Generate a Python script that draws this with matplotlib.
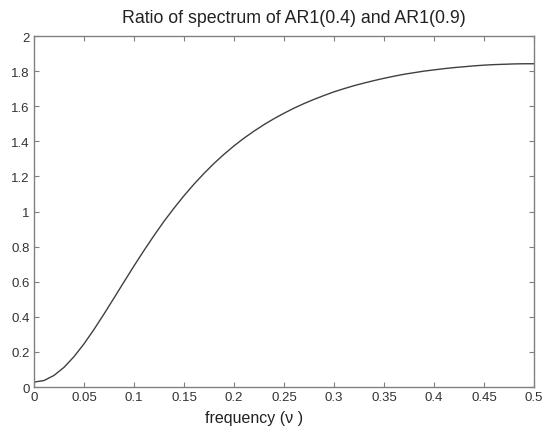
import matplotlib
matplotlib.use("Agg")
import matplotlib.pyplot as plt

# frequency grid and ratio of spectra
freq = [0.00, 0.01, 0.02, 0.03, 0.04, 0.05, 0.06, 0.07, 0.08, 0.09,
        0.10, 0.11, 0.12, 0.13, 0.14, 0.15, 0.16, 0.17, 0.18, 0.19,
        0.20, 0.21, 0.22, 0.23, 0.24, 0.25, 0.26, 0.27, 0.28, 0.29,
        0.30, 0.31, 0.32, 0.33, 0.34, 0.35, 0.36, 0.37, 0.38, 0.39,
        0.40, 0.41, 0.42, 0.43, 0.44, 0.45, 0.46, 0.47, 0.48, 0.49, 0.50]
ratio = [0.028, 0.037, 0.066, 0.112, 0.173, 0.246, 0.328, 0.416, 0.507, 0.599,
         0.690, 0.778, 0.863, 0.944, 1.019, 1.090, 1.156, 1.217, 1.274, 1.326,
         1.374, 1.418, 1.458, 1.495, 1.529, 1.560, 1.589, 1.615, 1.639, 1.661,
         1.682, 1.700, 1.717, 1.732, 1.746, 1.759, 1.771, 1.782, 1.791, 1.800,
         1.807, 1.814, 1.820, 1.825, 1.830, 1.834, 1.837, 1.839, 1.841, 1.842, 1.842]

xticks = [0, 0.05, 0.1, 0.15, 0.2, 0.25, 0.3, 0.35, 0.4, 0.45, 0.5]
xlabels = ["0", "0.05", "0.1", "0.15", "0.2", "0.25", "0.3", "0.35", "0.4", "0.45", "0.5"]
yticks = [0, 0.2, 0.4, 0.6, 0.8, 1, 1.2, 1.4, 1.6, 1.8, 2]
ylabels = ["0", "0.2", "0.4", "0.6", "0.8", "1", "1.2", "1.4", "1.6", "1.8", "2"]

plt.rcParams['font.family'] = ['Liberation Sans', 'DejaVu Sans']

fig = plt.figure(figsize=(5.43, 4.27), dpi=100)
ax = fig.add_axes([0.0626, 0.0913, 0.9208, 0.822])

ax.plot(freq, ratio, color="#404040", linewidth=1.0)

ax.set_xlim(0, 0.5)
ax.set_ylim(0, 2)
ax.set_xticks(xticks)
ax.set_xticklabels(xlabels)
ax.set_yticks(yticks)
ax.set_yticklabels(ylabels)

for s in ax.spines.values():
    s.set_color("#808080")
    s.set_linewidth(1.0)
ax.tick_params(direction="in", top=True, right=True, length=3.5, width=0.8,
               color="#808080", labelsize=9.5, labelcolor="#333333", pad=3)

# title and x label are a little off-centre in the original
ax.set_title("Ratio of spectrum of AR1(0.4) and AR1(0.9)", fontsize=12.8,
             color="#222222", pad=10, x=0.519)
ax.set_xlabel("frequency (\u03bd )", fontsize=11.5, color="#222222")
ax.xaxis.set_label_coords(0.44, -0.065)

fig.savefig("out.png", dpi=100)
